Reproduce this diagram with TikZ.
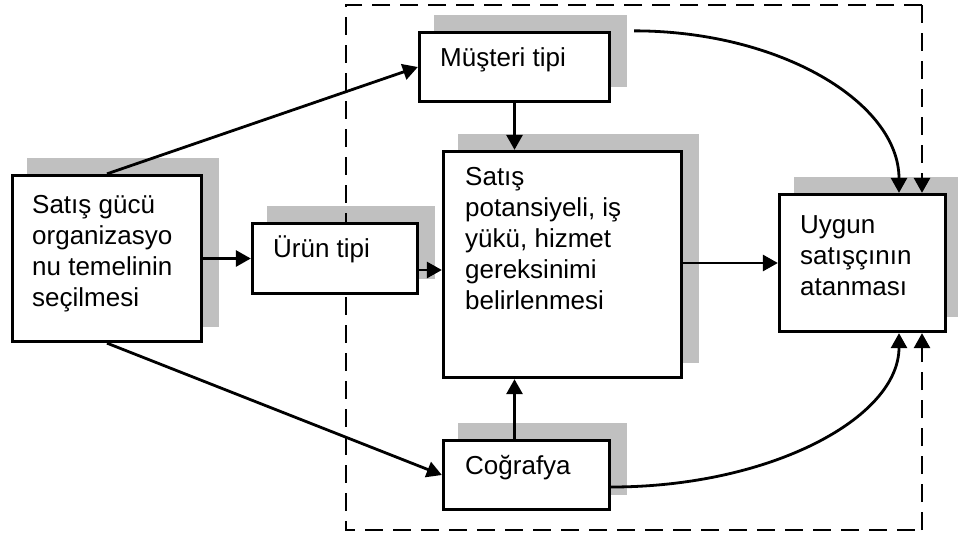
\documentclass[tikz,border=0pt]{standalone}
\usepackage{fontspec}
\setmainfont{Liberation Sans}
\usetikzlibrary{arrows.meta,calc}
\pgfdeclarelayer{shade}
\pgfdeclarelayer{frame}
\pgfsetlayers{shade,frame,main}
\definecolor{shadowgray}{HTML}{C0C0C0}
% left-aligned stack of lines whose baseline is the first line's
\newcommand\stacklines[1]{\begin{tabular}[t]{@{}l@{}}#1\end{tabular}}
\begin{document}
\begin{tikzpicture}[x=1pt,y=-1pt,
  box/.style={draw, fill=white, line width=2.8pt, inner sep=0pt},
  boxtext/.style={inner sep=0pt, anchor=base west, font=\fontsize{26}{31}\selectfont},
  tip/.style={-{Triangle[length=15pt,width=16pt]}},
  arr/.style={line width=2.8pt, tip},
  frameline/.style={line width=2.8pt, dash pattern=on 18pt off 10pt},
  shadowbox/.style={fill=shadowgray}]
\useasboundingbox (0,0) rectangle (958,538);

% boxes
\node[box, minimum width=189.5pt, minimum height=166.5pt] (L) at (107,258.5) {};
\node[box, minimum width=190.5pt, minimum height=69.5pt]  (M) at (514.5,67) {};
\node[box, minimum width=165.5pt, minimum height=70.5pt]  (U) at (335,258.5) {};
\node[box, minimum width=238.5pt, minimum height=226.5pt] (S) at (562.5,264.5) {};
\node[box, minimum width=166.5pt, minimum height=137.5pt] (A) at (862.5,263) {};
\node[box, minimum width=166.5pt, minimum height=69.5pt]  (C) at (526.5,475) {};

% box texts
\node[boxtext] (Lt) at (32,213) {\stacklines{Satış gücü\\organizasyo\\nu temelinin\\seçilmesi}};
\node[boxtext] (Mt) at (440,66) {Müşteri tipi};
\node[boxtext] (Ut) at (273,257) {Ürün tipi};
\node[boxtext] (St) at (465,185) {\stacklines{Satış\\potansiyeli, iş\\yükü, hizmet\\gereksinimi\\belirlenmesi}};
\node[boxtext] (At) at (800,233) {\stacklines{Uygun\\satışçının\\atanması}};
\node[boxtext] (Ct) at (465,474) {Coğrafya};

% drop shadows behind the boxes
\begin{pgfonlayer}{shade}
  \foreach \n in {L,M,U,S,A,C}
    \fill[shadowbox] ([shift={(16,-16)}]\n.south west) rectangle ([shift={(16,-16)}]\n.north east);
\end{pgfonlayer}

% dashed frame with its two arrows into the assignment box
\begin{pgfonlayer}{frame}
  \coordinate (fnw) at (346,5);
  \coordinate (fne) at (922,5);
  \coordinate (fsw) at (346,530);
  \coordinate (fse) at (922,530);
  \draw[frameline] (fne) -- (fnw) -- (fsw) -- (fse);
  \draw[frameline, tip] (fne) -- (fne |- A.north);
  \draw[frameline, tip] (fse) -- (fse |- A.south);
\end{pgfonlayer}

% connectors
\draw[arr] (L.north) -- (M.west);
\draw[arr] (L.south) -- (C.west);
\draw[arr] (L.east) -- (U.west);
\coordinate (u2) at ($(U.east)+(0,11.5)$);
\draw[arr] (u2) -- (u2 -| S.west);
\draw[arr] (M.south) -- (M.south |- S.north);
\draw[arr] (C.north -| M.south) -- (M.south |- S.south);
\draw[arr] (S.east |- A.west) -- (A.west);
\coordinate (topstart) at ($(M.north east)+(23,0)$);
\coordinate (topend) at ($(A.north)+(36.5,0)$);
\draw[arr] (topstart) .. controls (781,31) and (899,103) .. (topend);
\coordinate (botstart) at ($(C.east)+(0,12)$);
\coordinate (botend) at ($(A.south)+(36.5,0)$);
\draw[arr] (botstart) .. controls (770,487) and (899,418) .. (botend);
\end{tikzpicture}
\end{document}
